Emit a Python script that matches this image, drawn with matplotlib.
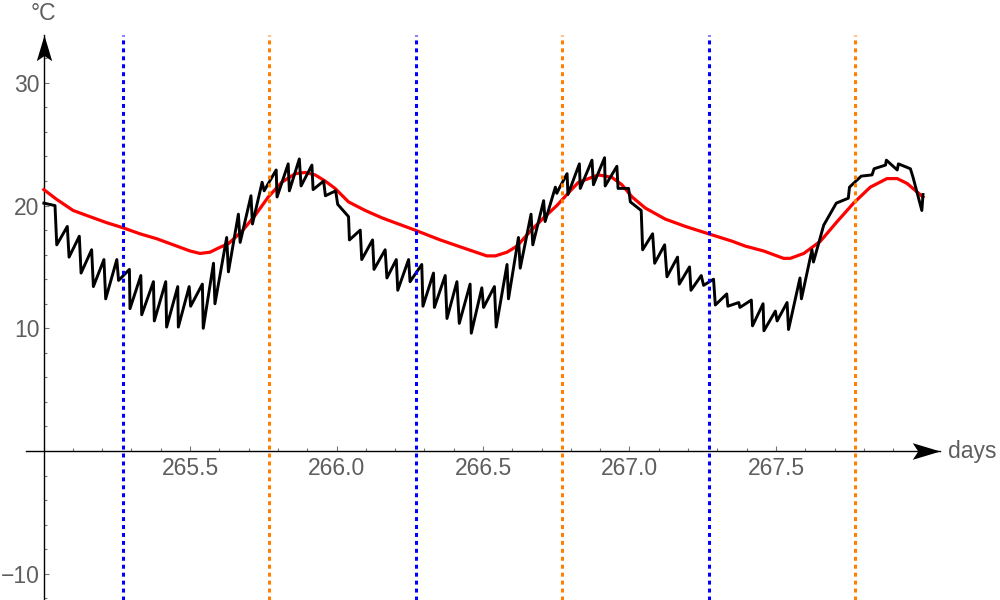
import numpy as np
import matplotlib
matplotlib.use("Agg")
import matplotlib.pyplot as plt
from matplotlib.path import Path
from matplotlib.ticker import FixedLocator, MultipleLocator

# ------------------------------------------------------------
# Données (jours, °C)
# ------------------------------------------------------------
# température mesurée (noir)
t_mesure = [
    265.001, 265.039, 265.045, 265.081, 265.087, 265.122, 265.128, 265.164,
    265.170, 265.206, 265.212, 265.250, 265.256, 265.293, 265.295, 265.332,
    265.335, 265.375, 265.378, 265.417, 265.420, 265.458, 265.460, 265.497,
    265.502, 265.542, 265.545, 265.580, 265.585, 265.625, 265.631, 265.665,
    265.671, 265.708, 265.713, 265.746, 265.753, 265.760, 265.794, 265.797,
    265.835, 265.839, 265.873, 265.879, 265.916, 265.920, 265.956, 265.962,
    265.997, 266.004, 266.041, 266.044, 266.081, 266.086, 266.123, 266.128,
    266.166, 266.172, 266.204, 266.209, 266.246, 266.251, 266.291, 266.295,
    266.331, 266.334, 266.371, 266.377, 266.411, 266.419, 266.456, 266.460,
    266.496, 266.502, 266.539, 266.545, 266.582, 266.587, 266.621, 266.627,
    266.664, 266.670, 266.707, 266.712, 266.747, 266.752, 266.760, 266.787,
    266.790, 266.829, 266.832, 266.872, 266.877, 266.915, 266.917, 266.957,
    266.961, 266.997, 267.003, 267.040, 267.045, 267.079, 267.086, 267.120,
    267.128, 267.164, 267.170, 267.205, 267.210, 267.245, 267.253, 267.287,
    267.293, 267.332, 267.336, 267.373, 267.377, 267.416, 267.420, 267.456,
    267.459, 267.498, 267.504, 267.538, 267.543, 267.582, 267.587, 267.623,
    267.628, 267.663, 267.706, 267.747, 267.751, 267.791, 267.828, 267.835,
    267.874, 267.877, 267.914, 267.918, 267.959, 267.968, 267.998, 268.002,
]
temp_mesure = [
    20.2, 20.0, 16.8, 18.3, 15.8, 17.5, 14.5, 16.4,
    13.4, 15.6, 12.4, 15.6, 13.9, 14.8, 11.6, 14.3,
    11.1, 13.8, 10.6, 13.8, 10.1, 13.4, 10.1, 13.4,
    11.8, 13.6, 10.0, 15.3, 12.0, 17.4, 14.6, 19.3,
    17.0, 20.8, 18.5, 21.9, 21.2, 21.5, 22.9, 20.7,
    23.4, 21.2, 23.8, 21.6, 23.3, 21.3, 22.0, 20.8,
    21.2, 20.1, 19.1, 17.2, 18.0, 15.6, 17.2, 14.8,
    16.4, 14.1, 15.6, 13.1, 15.6, 13.8, 15.2, 11.8,
    14.5, 11.7, 14.3, 10.8, 13.8, 10.4, 13.6, 9.6,
    13.3, 11.7, 13.4, 10.1, 15.2, 12.4, 17.4, 14.9,
    19.3, 16.8, 20.4, 18.7, 21.5, 21.0, 21.4, 22.6,
    20.9, 23.4, 21.4, 23.7, 21.7, 23.9, 21.6, 23.2,
    21.4, 21.4, 20.3, 19.6, 16.4, 17.7, 15.3, 16.8,
    14.2, 15.8, 13.6, 15.0, 13.1, 14.3, 13.5, 14.0,
    11.9, 12.8, 11.8, 12.1, 11.7, 12.3, 10.2, 12.0,
    9.8, 11.4, 10.6, 12.1, 9.9, 14.1, 12.4, 16.4,
    15.4, 18.4, 20.2, 20.6, 21.5, 22.4, 22.5, 23.0,
    23.3, 23.7, 22.9, 23.4, 23.0, 22.3, 19.6, 20.9,
]

# modèle (rouge)
t_modele = [
    265.001, 265.045, 265.101, 265.158, 265.216, 265.270, 265.329, 265.386,
    265.443, 265.500, 265.534, 265.568, 265.602, 265.631, 265.677, 265.722,
    265.767, 265.813, 265.859, 265.893, 265.927, 265.961, 265.995, 266.041,
    266.098, 266.155, 266.200, 266.268, 266.354, 266.439, 266.513, 266.542,
    266.582, 266.616, 266.661, 266.707, 266.752, 266.798, 266.826, 266.894,
    266.940, 266.974, 267.009, 267.054, 267.122, 267.191, 267.270, 267.350,
    267.395, 267.458, 267.526, 267.549, 267.595, 267.652, 267.709, 267.765,
    267.822, 267.879, 267.914, 267.948, 267.982, 268.002,
]
temp_modele = [
    21.3, 20.5, 19.6, 19.1, 18.6, 18.2, 17.7, 17.3,
    16.8, 16.3, 16.1, 16.2, 16.6, 16.9, 17.9, 19.2,
    20.7, 21.9, 22.6, 22.7, 22.5, 22.0, 21.4, 20.3,
    19.6, 19.0, 18.6, 18.0, 17.2, 16.5, 15.9, 15.9,
    16.2, 16.7, 17.9, 19.0, 20.0, 21.2, 21.9, 22.5,
    22.3, 21.7, 20.7, 19.8, 18.9, 18.3, 17.7, 17.1,
    16.7, 16.3, 15.7, 15.7, 16.1, 17.1, 18.7, 20.2,
    21.5, 22.2, 22.2, 21.8, 21.1, 20.7,
]

# lever (bleu) et coucher (orange) du soleil
lever = [265.27, 266.27, 267.27]
coucher = [265.77, 266.77, 267.77]

x_ticks = [265.5, 266.0, 266.5, 267.0, 267.5]
y_ticks = [-10, 10, 20, 30]

GRIS = "#5e5e5e"
plt.rcParams["font.family"] = ["Liberation Sans", "DejaVu Sans"]

# ------------------------------------------------------------
# Figure "style Mathematica" : axes qui se croisent, flèches
# ------------------------------------------------------------
fig = plt.figure(figsize=(10, 6), dpi=100)
ax = fig.add_axes([0.026, 0.0, 0.914, 565 / 600])
ax.set_xlim(264.94, 268.06)
ax.set_ylim(-12.14, 33.9)

for x in lever:
    ax.axvline(x, color="#0000ff", lw=2.2, ls=(0, (1.3, 1.3)), zorder=5)
for x in coucher:
    ax.axvline(x, color="#ff8000", lw=2.2, ls=(0, (1.3, 1.3)), zorder=5)

ax.plot(t_modele, temp_modele, color="#ff0000", lw=2.3,
        solid_joinstyle="round", zorder=3)
ax.plot(t_mesure, temp_mesure, color="black", lw=2.1,
        solid_joinstyle="round", zorder=4)

# axes
for side in ("top", "right"):
    ax.spines[side].set_visible(False)
ax.spines["bottom"].set_position(("data", 0))
ax.spines["left"].set_position(("data", 265))
for side in ("bottom", "left"):
    ax.spines[side].set_linewidth(1.0)

ax.xaxis.set_major_locator(FixedLocator(x_ticks))
ax.xaxis.set_minor_locator(MultipleLocator(0.1))
ax.set_xticklabels([f"{v:.1f}" for v in x_ticks])
ax.yaxis.set_major_locator(FixedLocator(y_ticks))
ax.yaxis.set_minor_locator(MultipleLocator(2))

ax.tick_params(which="both", direction="in", color="#777777", width=0.8,
               labelcolor=GRIS, labelsize=16.5)
ax.tick_params(which="major", length=3.8)
ax.tick_params(which="minor", length=2.2)
ax.tick_params(axis="x", pad=4.3)
ax.tick_params(axis="y", pad=3)

# pointes de flèche (forme Mathematica, avec encoche)
fleche_x = Path([(0, 0), (-1, 0.3), (-0.8, 0), (-1, -0.3), (0, 0)],
                [Path.MOVETO, Path.LINETO, Path.LINETO, Path.LINETO, Path.CLOSEPOLY])
fleche_y = Path([(0, 0), (-0.3, -1), (0, -0.8), (0.3, -1), (0, 0)],
                [Path.MOVETO, Path.LINETO, Path.LINETO, Path.LINETO, Path.CLOSEPOLY])
ax.plot([1], [0], transform=ax.get_yaxis_transform(), marker=fleche_x,
        ms=40, color="black", mew=0, clip_on=False, zorder=6)
ax.plot([265], [1], transform=ax.get_xaxis_transform(), marker=fleche_y,
        ms=37, color="black", mew=0, clip_on=False, zorder=6)

# étiquettes des axes
ax.annotate("days", xy=(1, 0), xycoords=ax.get_yaxis_transform(),
            xytext=(5.8, 0), textcoords="offset points",
            ha="left", va="center", fontsize=16.5, color=GRIS,
            annotation_clip=False)
ax.annotate("°C", xy=(265, 1), xycoords=ax.get_xaxis_transform(),
            xytext=(0, 10.8), textcoords="offset points",
            ha="center", va="baseline", fontsize=16.5, color=GRIS,
            annotation_clip=False)

fig.savefig("out.png", dpi=100)
